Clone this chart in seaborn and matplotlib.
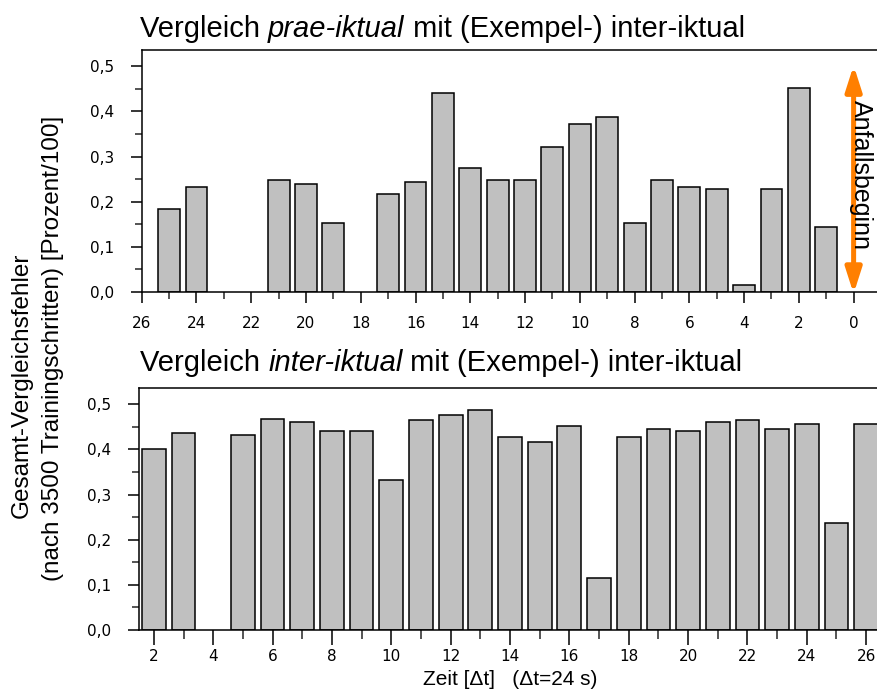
import matplotlib
matplotlib.use("Agg")
import matplotlib.pyplot as plt
from matplotlib.ticker import MultipleLocator, FuncFormatter
from matplotlib.patches import ArrowStyle
import pandas as pd
import seaborn as sns

# Pre-ictal windows, counted back from seizure onset (in steps of Δt)
prae_zeit = [25, 24, 21, 20, 19, 17, 16, 15, 14, 13, 12, 11, 10, 9, 8, 7, 6, 5, 4, 3, 2, 1]
prae_fehler = [0.183, 0.233, 0.247, 0.240, 0.152, 0.216, 0.243, 0.440, 0.275, 0.248, 0.248,
               0.321, 0.372, 0.388, 0.152, 0.248, 0.233, 0.228, 0.016, 0.228, 0.452, 0.143]

# Inter-ictal windows
inter_zeit = [2, 3, 5, 6, 7, 8, 9, 10, 11, 12, 13, 14, 15, 16, 17, 18, 19, 20, 21, 22, 23, 24, 25, 26]
inter_fehler = [0.400, 0.437, 0.433, 0.468, 0.460, 0.441, 0.441, 0.332, 0.465, 0.477, 0.488, 0.428,
                0.417, 0.452, 0.115, 0.428, 0.445, 0.440, 0.460, 0.465, 0.445, 0.456, 0.236, 0.456]

titel_oben = [("Vergleich ", "normal"), ("prae-iktual", "italic"), (" mit (Exempel-) inter-iktual", "normal")]
titel_unten = [("Vergleich ", "normal"), ("inter-iktual", "italic"), (" mit (Exempel-) inter-iktual", "normal")]
y_label = ["Gesamt-Vergleichsfehler", "(nach 3500 Trainingschritten) [Prozent/100]"]
x_label = "Zeit [Δt]   (Δt=24 s)"
onset_label = "Anfallsbeginn"
onset_hoehe = 0.502

sns.set_theme(style="ticks")
plt.rcParams["font.family"] = ["Liberation Sans", "DejaVu Sans"]
plt.rcParams["text.color"] = "black"
plt.rcParams["axes.labelcolor"] = "black"

W, H = 877, 690
fig = plt.figure(figsize=(W / 100, H / 100), dpi=100)
fig.patch.set_facecolor("white")


def px_box(left, top, right, bottom):
    return [left / W, (H - bottom) / H, (right - left) / W, (bottom - top) / H]


ax1 = fig.add_axes(px_box(141.7, 50, 881, 292))
ax2 = fig.add_axes(px_box(139, 388, 881, 630))

bar_kw = dict(native_scale=True, width=0.8, color="#C0C0C0", saturation=1,
              edgecolor="black", linewidth=1.1)
sns.barplot(data=pd.DataFrame({"t": prae_zeit, "f": prae_fehler}), x="t", y="f", ax=ax1, **bar_kw)
sns.barplot(data=pd.DataFrame({"t": inter_zeit, "f": inter_fehler}), x="t", y="f", ax=ax2, **bar_kw)

ax1.set_xlim(26, -1)
ax2.set_xlim(1.5, 26.5)

tick_font = dict(family="DejaVu Sans", size=11)
comma = FuncFormatter(lambda v, pos: f"{v:.1f}".replace(".", ","))
for ax, (tlen, tpad) in ((ax1, (8, 9)), (ax2, (11, 3))):
    ax.set_ylim(0, 0.536)
    ax.set_xlabel("")
    ax.set_ylabel("")
    ax.xaxis.set_major_locator(MultipleLocator(2))
    ax.xaxis.set_minor_locator(MultipleLocator(1))
    ax.yaxis.set_major_locator(MultipleLocator(0.1))
    ax.yaxis.set_minor_locator(MultipleLocator(0.05))
    ax.yaxis.set_major_formatter(comma)
    ax.tick_params(axis="x", which="major", length=tlen, width=1.1, pad=tpad,
                   colors="black", direction="out")
    ax.tick_params(axis="x", which="minor", length=tlen * 0.6, width=1.1, direction="out")
    ax.tick_params(axis="y", which="major", length=8, width=1.1, pad=12,
                   colors="black", direction="out")
    ax.tick_params(axis="y", which="minor", length=5, width=1.1, direction="out")
    for lab in ax.get_xticklabels() + ax.get_yticklabels():
        lab.set_fontfamily(tick_font["family"])
        lab.set_fontsize(tick_font["size"])
    for side, sp in ax.spines.items():
        sp.set_visible(side != "right")
        sp.set_linewidth(1.1)
        sp.set_color("black")
    ax.set_facecolor("white")

# Seizure onset marker
ax1.annotate("", xy=(0, onset_hoehe), xytext=(0, -0.004), annotation_clip=False,
             arrowprops=dict(arrowstyle=ArrowStyle("<|-|>", head_length=1.0, head_width=0.32),
                             color="#FF7F00", lw=3.6, mutation_scale=15,
                             shrinkA=0, shrinkB=0))
ax1.text(-0.27, 0.26, onset_label, rotation=270, ha="center", va="center",
         fontsize=18, color="black", clip_on=False)

# Panel titles with an italic middle part
renderer = fig.canvas.get_renderer()


def rich_title(parts, x_px, base_px):
    x = x_px / W
    for txt, style in parts:
        t = fig.text(x, (H - base_px) / H, txt, style=style, fontsize=21,
                     ha="left", va="baseline", color="black")
        x += t.get_window_extent(renderer).width / W


rich_title(titel_oben, 140, 37)
rich_title(titel_unten, 140, 371)

# Shared axis labels
fig.text(22 / W, (H - 385) / H, y_label[0], rotation=90, ha="center", va="center",
         fontsize=17.5, color="black")
fig.text(53 / W, (H - 348) / H, y_label[1], rotation=90, ha="center", va="center",
         fontsize=17.5, color="black")
ax2.set_xlabel(x_label, fontsize=15, color="black")
ax2.xaxis.set_label_coords(0.5, -40 / 242)

fig.savefig("out.png", dpi=100, facecolor="white")
